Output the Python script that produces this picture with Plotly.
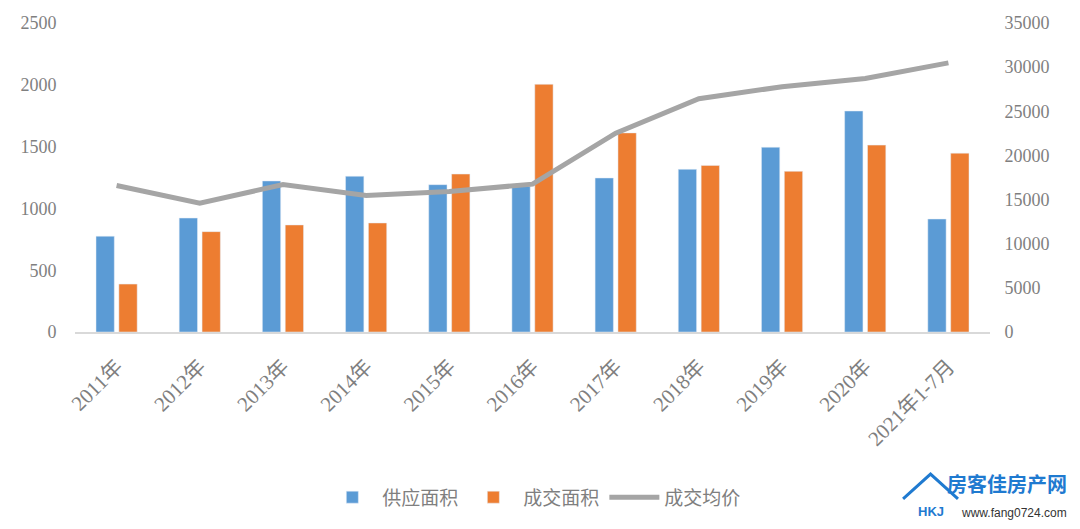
import plotly.graph_objects as go

categories = ["2011年", "2012年", "2013年", "2014年", "2015年", "2016年",
              "2017年", "2018年", "2019年", "2020年", "2021年1-7月"]
supply_area = [775, 922, 1222, 1260, 1192, 1180, 1246, 1316, 1495, 1788, 914]
deal_area = [388, 812, 866, 882, 1278, 2004, 1611, 1348, 1300, 1512, 1447]
avg_price = [16600, 14600, 16700, 15460, 15910, 16750, 22520, 26430, 27780, 28710, 30480]

font_fam = "Liberation Serif, Noto Sans CJK SC, serif"
tick_color = "#7f7f7f"

fig = go.Figure()
fig.add_trace(go.Bar(x=categories, y=supply_area, name="供应面积",
                     marker=dict(color="#5b9bd5")))
fig.add_trace(go.Bar(x=categories, y=deal_area, name="成交面积",
                     marker=dict(color="#ed7d31")))
fig.add_trace(go.Scatter(x=categories, y=avg_price, name="成交均价", yaxis="y2",
                         mode="lines", line=dict(color="#a5a5a5", width=5)))

fig.update_layout(
    width=1080, height=529,
    margin=dict(l=75, r=90, t=23, b=195),
    paper_bgcolor="white", plot_bgcolor="white",
    barmode="group", bargap=0.45, bargroupgap=0.2,
    font=dict(family=font_fam, color=tick_color),
    xaxis=dict(tickangle=-45, tickfont=dict(size=21, color=tick_color, family=font_fam),
               showline=True, linecolor="#d9d9d9", linewidth=2,
               ticks="outside", ticklen=12, tickcolor="white",
               showgrid=False, automargin=False),
    yaxis=dict(range=[0, 2500], dtick=500, showgrid=False, zeroline=False,
               tickfont=dict(size=18, color=tick_color, family=font_fam),
               ticks="outside", ticklen=14, tickcolor="white", automargin=False),
    yaxis2=dict(range=[0, 35000], dtick=5000, overlaying="y", side="right",
                showgrid=False, zeroline=False, tickformat="d",
                tickfont=dict(size=18, color=tick_color, family=font_fam),
                ticks="outside", ticklen=10, tickcolor="white", automargin=False),
    legend=dict(orientation="h", x=0.502, xanchor="center", y=-0.535, yanchor="middle",
                font=dict(size=19, color=tick_color, family=font_fam),
                itemwidth=50),
    showlegend=True,
)

# watermark logo text
fig.add_annotation(xref="paper", yref="paper", x=1.086, y=-0.49, xanchor="right", yanchor="middle",
                   text="<b>房客佳房产网</b>", showarrow=False,
                   font=dict(size=20, color="#1f7ad0", family="Noto Sans CJK SC"))
fig.add_annotation(xref="paper", yref="paper", x=1.086, y=-0.585, xanchor="right", yanchor="middle",
                   text="www.fang0724.com", showarrow=False,
                   font=dict(size=12, color="#333333", family="Liberation Sans Narrow, Liberation Sans"))
# house icon outline
fig.add_shape(type="path", xref="paper", yref="paper",
              path="M 0.905 -0.54 L 0.935 -0.46 L 0.965 -0.54",
              line=dict(color="#1f7ad0", width=3))
fig.add_annotation(xref="paper", yref="paper", x=0.935, y=-0.58, xanchor="center", yanchor="middle",
                   text="<b>HKJ</b>", showarrow=False,
                   font=dict(size=13, color="#1f7ad0", family="Liberation Sans"))

fig.write_html("out.html")
